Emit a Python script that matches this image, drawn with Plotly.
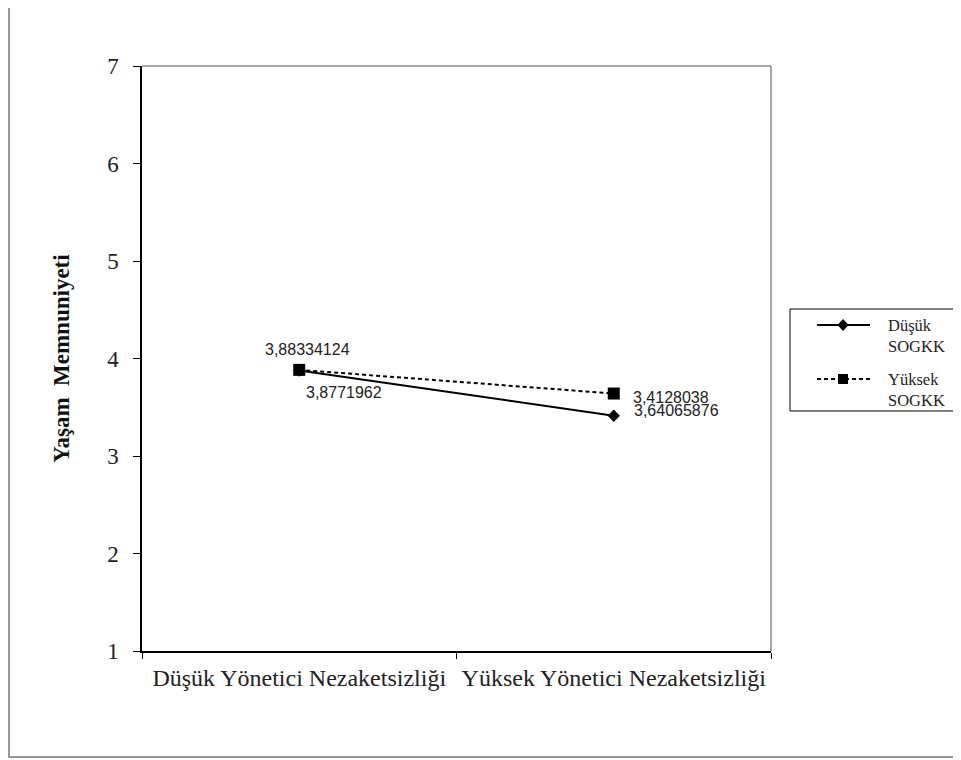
import plotly.graph_objects as go

categories = ["Düşük Yönetici Nezaketsizliği", "Yüksek Yönetici Nezaketsizliği"]
series_names = ["Düşük<br>SOGKK", "Yüksek<br>SOGKK"]
dusuk_sogkk = [3.8771962, 3.4128038]
yuksek_sogkk = [3.88334124, 3.64065876]
y_ticks = [1, 2, 3, 4, 5, 6, 7]

serif = "Liberation Serif, Times New Roman, serif"
sans = "Liberation Sans, Arial, sans-serif"
DASH = "4px,3px"

fig = go.Figure()
fig.add_trace(go.Scatter(
    x=categories, y=dusuk_sogkk, name=series_names[0], mode="lines+markers",
    line=dict(color="black", width=2, dash="solid"),
    marker=dict(symbol="diamond", size=9.5, color="black"),
    showlegend=False,
))
fig.add_trace(go.Scatter(
    x=categories, y=yuksek_sogkk, name=series_names[1], mode="lines+markers",
    line=dict(color="black", width=2, dash=DASH),
    marker=dict(symbol="square", size=12, color="black"),
    showlegend=False,
))

def fmt(v):
    return str(v).replace(".", ",")

label_font = dict(family=sans, size=16, color="#222")
annotations = [
    dict(x=categories[0], y=yuksek_sogkk[0], text=fmt(yuksek_sogkk[0]), showarrow=False,
         xanchor="center", yanchor="middle", xshift=8, yshift=20, font=label_font),
    dict(x=categories[0], y=dusuk_sogkk[0], text=fmt(dusuk_sogkk[0]), showarrow=False,
         xanchor="center", yanchor="middle", xshift=45, yshift=-22, font=label_font),
    dict(x=categories[1], y=dusuk_sogkk[1], text=fmt(dusuk_sogkk[1]), showarrow=False,
         xanchor="left", yanchor="middle", xshift=17, yshift=18, font=label_font),
    dict(x=categories[1], y=yuksek_sogkk[1], text=fmt(yuksek_sogkk[1]), showarrow=False,
         xanchor="left", yanchor="middle", xshift=18, yshift=-17, font=label_font),
]

shapes = [
    # outer frame
    dict(type="rect", xref="paper", yref="paper", x0=-0.2114, x1=1.33, y0=-0.181, y1=1.1026,
         line=dict(color="#777", width=1.5), layer="below"),
    # plot area border: top and right edges
    dict(type="line", xref="paper", yref="paper", x0=0, x1=1, y0=1, y1=1,
         line=dict(color="#888", width=1.5), layer="below"),
    dict(type="line", xref="paper", yref="paper", x0=1, x1=1, y0=0, y1=1,
         line=dict(color="#888", width=1.5), layer="below"),
]

# manual legend (box, sample lines, marker glyphs, labels)
leg_box = dict(x0=1.0302, x1=1.2973, y0=0.4103, y1=0.5846)
leg_rows = [0.5573, 0.4650]
leg_text_y = [0.5385, 0.4462]
leg_line = (1.0731, 1.1574)
leg_mark_x = 1.1145
leg_text_x = 1.1828
leg_dash = ["solid", DASH]
leg_width = [2, 2]

shapes.append(dict(type="rect", xref="paper", yref="paper", line=dict(color="black", width=1),
                   fillcolor="white", **leg_box))
for i in range(2):
    shapes.append(dict(type="line", xref="paper", yref="paper", x0=leg_line[0], x1=leg_line[1],
                       y0=leg_rows[i], y1=leg_rows[i],
                       line=dict(color="black", width=leg_width[i], dash=leg_dash[i])))
    annotations.append(dict(xref="paper", yref="paper", x=leg_text_x, y=leg_text_y[i],
                            text=series_names[i], showarrow=False, xanchor="left", yanchor="middle",
                            align="left", font=dict(family=serif, size=16.5, color="#222")))
# diamond marker
shapes.append(dict(type="path", xref="paper", yref="paper", xsizemode="pixel", ysizemode="pixel",
                   xanchor=leg_mark_x, yanchor=leg_rows[0],
                   path="M 0 6 L 5.5 0 L 0 -6 L -5.5 0 Z",
                   fillcolor="black", line=dict(color="black", width=0)))
# square marker
shapes.append(dict(type="rect", xref="paper", yref="paper", xsizemode="pixel", ysizemode="pixel",
                   xanchor=leg_mark_x, yanchor=leg_rows[1], x0=-5, x1=5, y0=-5, y1=5,
                   fillcolor="black", line=dict(color="black", width=0)))

fig.update_layout(
    width=953, height=752,
    margin=dict(l=134, r=190, t=58, b=109),
    paper_bgcolor="white", plot_bgcolor="white",
    showlegend=False,
    annotations=annotations,
    shapes=shapes,
    xaxis=dict(
        type="category", range=[-0.5, 1.5], showline=True, linecolor="black", linewidth=1.5,
        ticks="outside", tickson="boundaries", ticklen=6, tickcolor="black",
        showgrid=False, zeroline=False, ticklabelstandoff=4,
        tickfont=dict(family=serif, size=24, color="#222"),
    ),
    yaxis=dict(
        range=[1, 7], tickvals=y_ticks, showline=True, linecolor="black", linewidth=1.5,
        ticks="outside", ticklen=7, tickcolor="black", showgrid=False, zeroline=False,
        ticklabelstandoff=10,
        tickfont=dict(family=serif, size=23, color="#222"),
        title=dict(text="<b>Yaşam  Memnuniyeti</b>", font=dict(family=serif, size=23, color="#111"),
                   standoff=31),
    ),
)

fig.write_html("out.html")
